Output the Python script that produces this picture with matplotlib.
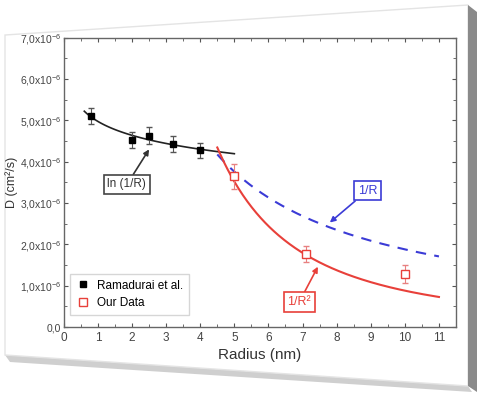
import matplotlib
matplotlib.use("Agg")
import matplotlib.pyplot as plt
import numpy as np
from matplotlib.patches import Polygon

plt.rcParams["font.family"] = ["Liberation Sans", "DejaVu Sans"]
plt.rcParams["mathtext.default"] = "regular"

# data (D in units of 1e-6 cm^2/s)
ram_r = [0.8, 2.0, 2.5, 3.2, 4.0]
ram_d = [5.1, 4.53, 4.63, 4.43, 4.28]
ram_err = [0.19, 0.2, 0.2, 0.2, 0.18]

our_r = [5.0, 7.1, 10.0]
our_d = [3.65, 1.77, 1.28]
our_err = [0.3, 0.2, 0.21]

# fit curve ranges and amplitudes
ln_range = (0.6, 5.0)
inv_r_range = (4.5, 11.0)
inv_r_amp = 18.8
inv_r2_amp = 88.0

y_ticks = [0, 1, 2, 3, 4, 5, 6, 7]
y_tick_labels = ["0,0"] + ["%d,0x10$^{-6}$" % v for v in y_ticks[1:]]
x_ticks = list(range(0, 12))

fig = plt.figure(figsize=(4.8, 3.94), dpi=100)

# card background with shadow (pixel coords)
bg = fig.add_axes([0, 0, 1, 1], zorder=0)
bg.set_xlim(0, 480)
bg.set_ylim(394, 0)
bg.axis("off")
bg.add_patch(Polygon([(5, 355), (468, 386), (472, 392), (10, 362)], closed=True,
                     facecolor="#cfcfcf", edgecolor="none"))
bg.add_patch(Polygon([(5, 35), (468, 5), (468, 386), (5, 355)], closed=True,
                     facecolor="white", edgecolor="#e4e4e4", lw=1))
bg.add_patch(Polygon([(468, 5), (477, 12), (477, 392), (468, 386)], closed=True,
                     facecolor="#8a8a8a", edgecolor="none"))

ax = fig.add_axes([0.133, 0.17, 0.817, 0.734], zorder=1)

# ln(1/R) fit through the Ramadurai points
coef = np.polyfit(np.log(ram_r), ram_d, 1)
r_ln = np.linspace(ln_range[0], ln_range[1], 100)
ax.plot(r_ln, (coef[0] * np.log(r_ln) + coef[1]) * 1e-6, color="#222222", lw=1.2)

r_fit = np.linspace(inv_r_range[0], inv_r_range[1], 200)
ax.plot(r_fit, inv_r_amp / r_fit * 1e-6, color="#3b3bd6", lw=1.5, ls=(0, (5, 4)))
ax.plot(r_fit, inv_r2_amp / r_fit ** 2 * 1e-6, color="#e8403a", lw=1.5)

ax.errorbar(ram_r, np.array(ram_d) * 1e-6, yerr=np.array(ram_err) * 1e-6,
            fmt="none", elinewidth=0.8, capsize=2, ecolor="#555555")
ax.plot(ram_r, np.array(ram_d) * 1e-6, "s", color="black", ms=5,
        label="Ramadurai et al.")
ax.errorbar(our_r, np.array(our_d) * 1e-6, yerr=np.array(our_err) * 1e-6,
            fmt="none", elinewidth=0.8, capsize=2, ecolor="#e88080")
ax.plot(our_r, np.array(our_d) * 1e-6, "s", mfc="white", mec="#e8403a",
        ms=6, mew=1, label="Our Data")

ax.set_xlim(0, 11.5)
ax.set_ylim(0, 7e-6)
ax.set_xticks(x_ticks)
ax.set_xticks(np.arange(0.5, 11.5, 0.5), minor=True)
ax.set_yticks([v * 1e-6 for v in y_ticks])
ax.set_yticklabels(y_tick_labels)
ax.set_yticks(np.arange(0.5, 7, 0.5) * 1e-6, minor=True)
ax.tick_params(which="both", direction="in", top=True, right=True,
               colors="#555555", labelcolor="#444444", labelsize=7.5)
ax.tick_params(axis="x", labelsize=8.5)
ax.tick_params(axis="y", pad=2)
ax.tick_params(which="major", length=3)
ax.tick_params(which="minor", length=2)
for s in ax.spines.values():
    s.set_color("#666666")
    s.set_linewidth(1)

ax.set_xlabel("Radius (nm)", fontsize=11, color="#333333", labelpad=3)
ax.set_ylabel("D (cm²/s)", fontsize=9, color="#333333", va="center")
ax.yaxis.set_label_coords(-0.132, 0.5)

ax.legend(loc="lower left", fontsize=8.5, frameon=True, fancybox=False,
          edgecolor="#cccccc", handletextpad=0.6, borderpad=0.5,
          handlelength=1.2, bbox_to_anchor=(0.0, 0.02))

ax.annotate("ln (1/R)", xy=(2.5, 4.3e-6), xytext=(1.85, 3.45e-6),
            fontsize=8.5, color="#333333", ha="center", va="center",
            bbox=dict(boxstyle="square,pad=0.3", fc="white", ec="#444444", lw=1.2),
            arrowprops=dict(arrowstyle="-|>", color="#333333", lw=1.2,
                            shrinkA=0, shrinkB=0, mutation_scale=8))
ax.annotate("1/R", xy=(7.8, 2.53e-6), xytext=(8.9, 3.3e-6),
            fontsize=9, color="#3b3bd6", ha="center", va="center",
            bbox=dict(boxstyle="square,pad=0.3", fc="white", ec="#3b3bd6", lw=1.2),
            arrowprops=dict(arrowstyle="-|>", color="#3b3bd6", lw=1.2,
                            shrinkA=0, shrinkB=0, mutation_scale=8))
ax.annotate("1/R²", xy=(7.45, 1.46e-6), xytext=(6.9, 0.6e-6),
            fontsize=9, color="#e8403a", ha="center", va="center",
            bbox=dict(boxstyle="square,pad=0.3", fc="white", ec="#e8403a", lw=1.2),
            arrowprops=dict(arrowstyle="-|>", color="#e8403a", lw=1.2,
                            shrinkA=0, shrinkB=0, mutation_scale=8))

fig.savefig("out.png", dpi=100)
